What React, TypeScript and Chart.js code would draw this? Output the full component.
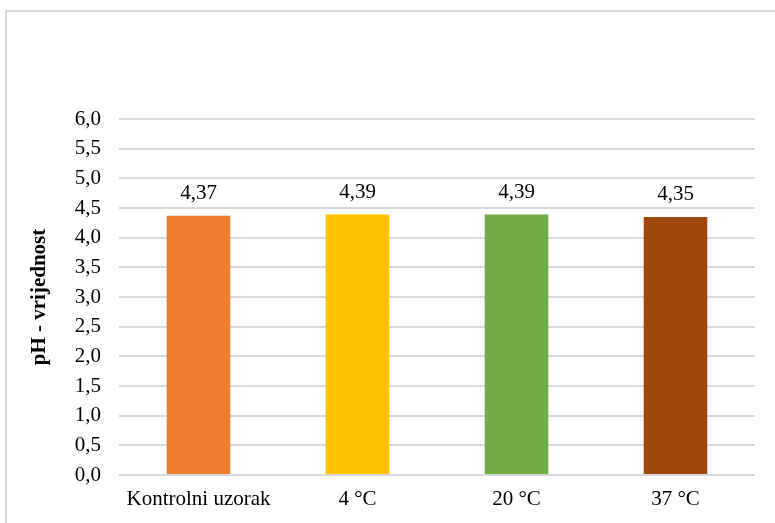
import React, { useEffect, useRef } from "react";
import { Chart, registerables } from "chart.js";

Chart.register(...registerables);

const categories = ["Kontrolni uzorak", "4 °C", "20 °C", "37 °C"];
const phValues = [4.37, 4.39, 4.39, 4.35];
const barColors = ["#ED7D31", "#FFC000", "#70AD47", "#9E480E"];
const yMin = 0;
const yMax = 6;
const yStep = 0.5;
const yTitle = "pH - vrijednost";

const FONT = "'Liberation Serif', 'Times New Roman', serif";
const fmt = (v: number, d: number) => v.toFixed(d).replace(".", ",");

const dataLabelPlugin = {
  id: "dataLabels",
  afterDatasetsDraw(chart: any) {
    const ctx = chart.ctx;
    const meta = chart.getDatasetMeta(0);
    ctx.save();
    ctx.font = `21px ${FONT}`;
    ctx.fillStyle = "#000000";
    ctx.textAlign = "center";
    ctx.textBaseline = "alphabetic";
    meta.data.forEach((bar: any, i: number) => {
      ctx.fillText(fmt(phValues[i], 2), bar.x, bar.y - 17);
    });
    ctx.restore();
  },
};

export default function App() {
  const ref = useRef<HTMLCanvasElement | null>(null);

  useEffect(() => {
    if (!ref.current) return;
    const chart = new Chart(ref.current, {
      type: "bar",
      data: {
        labels: categories,
        datasets: [
          {
            data: phValues,
            backgroundColor: barColors,
            borderWidth: 0,
            barPercentage: 0.4,
            categoryPercentage: 1,
          },
        ],
      },
      options: {
        responsive: false,
        animation: false,
        devicePixelRatio: 1,
        layout: { padding: { top: 119, right: 20, bottom: 0, left: 0 } },
        plugins: {
          legend: { display: false },
          tooltip: { enabled: false },
        },
        scales: {
          x: {
            grid: { display: false, drawTicks: false },
            border: { display: false },
            ticks: {
              font: { family: FONT, size: 21 },
              color: "#000000",
              padding: 12,
              maxRotation: 0,
              autoSkip: false,
            },
            afterFit: (s: any) => {
              s.height = 48;
            },
          },
          y: {
            min: yMin,
            max: yMax,
            grid: { color: "#d9d9d9", lineWidth: 2, drawTicks: false },
            border: { display: false },
            ticks: {
              stepSize: yStep,
              font: { family: FONT, size: 21 },
              color: "#000000",
              padding: 18,
              callback: (v: any) => fmt(Number(v), 1),
            },
            title: {
              display: true,
              text: yTitle,
              font: { family: FONT, size: 21, weight: "bold" },
              color: "#000000",
              padding: { top: 27, bottom: 0 },
            },
            afterFit: (s: any) => {
              s.width = 119;
            },
          },
        },
      },
      plugins: [dataLabelPlugin],
    });
    return () => chart.destroy();
  }, []);

  return (
    <div
      style={{
        position: "fixed",
        left: 0,
        top: 0,
        width: 775,
        height: 523,
        overflow: "hidden",
        background: "#ffffff",
      }}
    >
      <div
        style={{
          position: "absolute",
          left: 5,
          top: 10,
          width: 800,
          height: 530,
          borderLeft: "2px solid #d9d9d9",
          borderTop: "2px solid #d9d9d9",
        }}
      />
      <canvas
        ref={ref}
        width={775}
        height={523}
        style={{ position: "absolute", left: 0, top: 0, width: 775, height: 523 }}
      />
    </div>
  );
}
